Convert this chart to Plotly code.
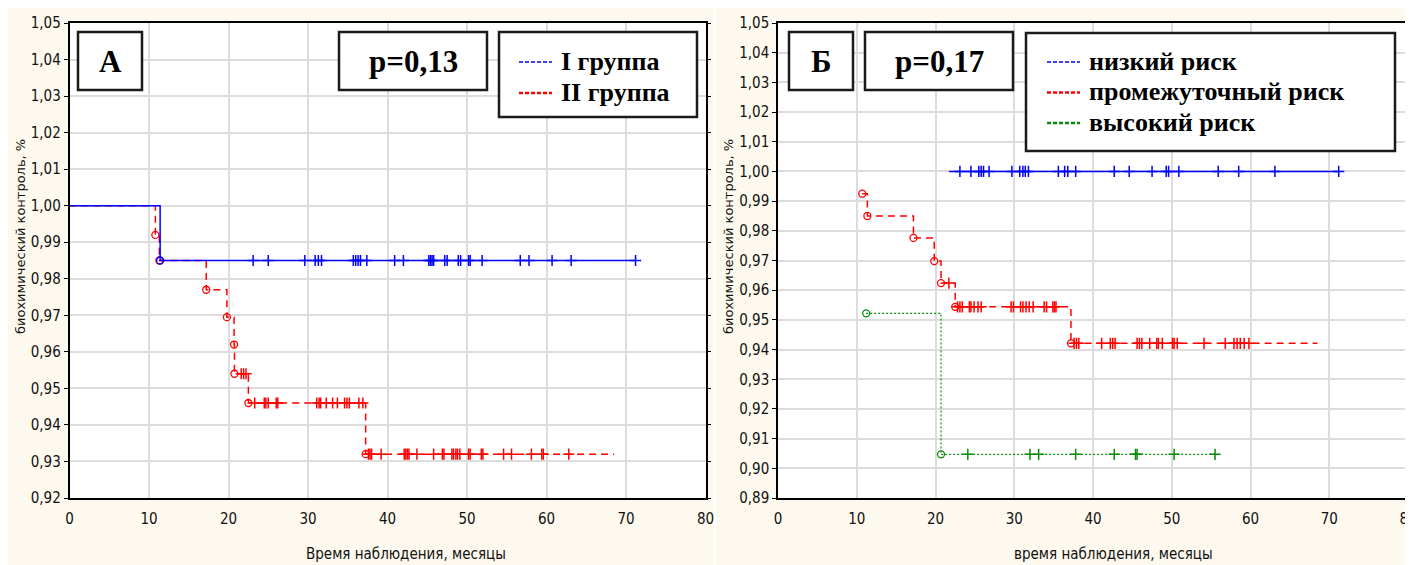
import plotly.graph_objects as go

# ---------------- data ----------------
# Panel A (left): groups
A_labels = ["I группа", "II группа"]
A_g1_start = (0.0, 1.0)
A_g1_event_t = [11.4]
A_g1_event_s = [0.985]
A_g1_end = 71.2
A_g1_cens = [23.1, 25.0, 29.6, 30.9, 31.3, 31.7, 35.7, 36.0, 36.3, 36.6, 37.4, 40.9, 42.0,
             45.2, 45.4, 45.6, 45.8, 47.2, 47.5, 48.9, 49.2, 50.2, 50.4, 51.9, 56.7, 57.8,
             60.7, 63.1, 71.2]

A_g2_start = (0.0, 1.0)
A_g2_event_t = [10.8, 11.3, 17.2, 19.8, 20.7, 20.75, 22.5, 37.25]
A_g2_event_s = [0.992, 0.985, 0.977, 0.9695, 0.962, 0.954, 0.946, 0.932]
A_g2_end = 68.5
A_g2_cens = [21.6, 21.9, 22.2,
             23.3, 24.5, 24.7, 25.0, 26.0, 26.2, 31.1, 31.4, 31.6, 32.3, 33.1, 33.7, 34.6,
             34.9, 35.2, 36.4, 36.9,
             37.6, 37.8, 38.0, 39.2, 42.1, 42.3, 42.5, 42.7, 43.7, 45.8, 46.9, 47.1, 48.1,
             48.3, 48.6, 48.8, 49.1, 50.2, 50.4, 51.8, 52.0, 54.6, 55.6, 58.1, 59.4, 59.6,
             62.8]

# Panel B (right): risk groups
B_labels = ["низкий риск", "промежуточный риск", "высокий риск"]
B_low_start = (21.7, 1.0)
B_low_event_t = []
B_low_event_s = []
B_low_end = 71.2
B_low_cens = [23.1, 24.5, 25.5, 25.8, 26.1, 26.8, 29.7, 30.7, 31.1, 31.4, 31.8, 35.6, 36.4,
              36.8, 37.8, 42.7, 44.6, 47.5, 49.3, 49.6, 50.9, 55.9, 58.5, 63.1, 71.2]

B_mid_start = (10.7, 0.9925)
B_mid_event_t = [10.7, 11.35, 17.2, 19.84, 20.7, 22.5, 37.2]
B_mid_event_s = [0.9925, 0.985, 0.9776, 0.9698, 0.9624, 0.9544, 0.9421]
B_mid_end = 68.5
B_mid_cens = [21.7,
              22.8, 23.1, 23.4, 24.3, 24.5, 24.9, 25.4, 25.8, 29.6, 29.9, 30.8, 31.1, 31.5,
              31.9, 32.4, 33.8, 34.1, 34.9, 35.1, 35.3,
              37.6, 37.9, 38.2, 41.1, 42.2, 42.5, 42.8, 45.6, 45.9, 46.2, 47.2, 48.1, 48.3,
              48.8, 50.1, 50.3, 50.7, 54.1, 56.8, 57.9, 58.3, 58.7, 59.2, 59.8]

B_high_start = (11.2, 0.9522)
B_high_event_t = [11.2, 20.7]
B_high_event_s = [0.9522, 0.9047]
B_high_end = 55.5
B_high_cens = [24.1, 32.0, 33.1, 37.8, 42.7, 45.4, 45.6, 50.3, 55.5]

p_values = ["p=0,13", "p=0,17"]
panel_letters = ["А", "Б"]
x_titles = ["Время наблюдения, месяцы", "время наблюдения, месяцы"]
y_title = "биохимический контроль, %"

# ---------------- styling ----------------
W, H = 1413, 565
OFF = 8  # the page's own body margin shifts the figure by this much
BLUE, RED, GREEN = "#0000FF", "#FF0000", "#0A8A0A"
BEIGE = "#FEF9EE"
NARROW = "Liberation Sans Narrow, Arial Narrow, DejaVu Sans Condensed, sans-serif"
SERIF = "Liberation Serif, Times New Roman, serif"


def px(x):
    return (x - OFF) / W


def py(y):
    return 1 - (y - OFF) / H


def surv_at(t, start, ev_t, ev_s):
    s = start[1]
    for et, es in zip(ev_t, ev_s):
        if et <= t:
            s = es
    return s


fig = go.Figure()


def add_curve(xa, ya, start, ev_t, ev_s, end, cens, color, dash, width):
    xs = [start[0]] + list(ev_t) + [end]
    last = ev_s[-1] if ev_s else start[1]
    ys = [start[1]] + list(ev_s) + [last]
    fig.add_trace(go.Scatter(x=xs, y=ys, mode="lines", line=dict(color=color, width=width, dash=dash, shape="hv"),
                             xaxis=xa, yaxis=ya, showlegend=False, hoverinfo="skip"))
    if ev_t:
        fig.add_trace(go.Scatter(x=ev_t, y=ev_s, mode="markers",
                                 marker=dict(symbol="circle-open", size=7, color=color, line=dict(width=1.3, color=color)),
                                 xaxis=xa, yaxis=ya, showlegend=False))
    cy = [surv_at(t, start, ev_t, ev_s) for t in cens]
    fig.add_trace(go.Scatter(x=cens, y=cy, mode="markers",
                             marker=dict(symbol="cross-thin", size=8, color=color, line=dict(width=1.5, color=color)),
                             xaxis=xa, yaxis=ya, showlegend=False))


# Panel A
add_curve("x", "y", A_g2_start, A_g2_event_t, A_g2_event_s, A_g2_end, A_g2_cens, RED, "7px,5px", 1.5)
add_curve("x", "y", A_g1_start, A_g1_event_t, A_g1_event_s, A_g1_end, A_g1_cens, BLUE, "solid", 1.5)
# Panel B
add_curve("x2", "y2", B_low_start, B_low_event_t, B_low_event_s, B_low_end, B_low_cens, BLUE, "solid", 1.5)
add_curve("x2", "y2", B_mid_start, B_mid_event_t, B_mid_event_s, B_mid_end, B_mid_cens, RED, "7px,5px", 1.5)
add_curve("x2", "y2", B_high_start, B_high_event_t, B_high_event_s, B_high_end, B_high_cens, GREEN, "2px,2px", 1.2)

common_x = dict(range=[0, 80], dtick=10, tick0=0, showgrid=True, gridcolor="#DCDCDC", gridwidth=1.5,
                zeroline=False, showline=True, linecolor="black", linewidth=1.5, mirror=True,
                ticks="", ticklabelstandoff=6, tickfont=dict(family=NARROW, size=15, color="#111"),
                fixedrange=True, automargin=False)
common_y = dict(dtick=0.01, tickformat=".2f", showgrid=True, gridcolor="#DCDCDC", gridwidth=1.5,
                zeroline=False, showline=True, linecolor="black", linewidth=1.5, mirror="ticks",
                ticks="outside", ticklen=4, tickcolor="black", tickwidth=1,
                tickfont=dict(family=NARROW, size=15, color="#111"), fixedrange=True,
                automargin=False)

LX = [px(69.5), px(705.5)]
RX = [px(778), px(1408)]
YD = [py(498), py(23)]

fig.update_layout(
    width=W, height=H, margin=dict(l=0, r=0, t=0, b=0, autoexpand=False),
    paper_bgcolor=BEIGE, plot_bgcolor="white", separators=", ",
    xaxis=dict(domain=LX, anchor="y", **common_x),
    yaxis=dict(domain=YD, anchor="x", range=[0.92, 1.05], **common_y),
    xaxis2=dict(domain=RX, anchor="y2", **common_x),
    yaxis2=dict(domain=YD, anchor="x2", range=[0.89, 1.05], **common_y),
)

shapes = []
annotations = []
# faint separator between the two panels
shapes.append(dict(type="line", xref="paper", yref="paper", x0=px(715), x1=px(715), y0=0, y1=1,
                   line=dict(color="white", width=2), layer="below"))


def box(x0, y0, x1, y1):
    shapes.append(dict(type="rect", xref="paper", yref="paper", x0=px(x0), x1=px(x1), y0=py(y1), y1=py(y0),
                       fillcolor="white", line=dict(color="#1a1a1a", width=2.5), layer="above"))


def text(x, y, s, size, family=SERIF, weight="bold", xanchor="center", color="black", angle=0):
    annotations.append(dict(xref="paper", yref="paper", x=px(x), y=py(y), text=s, showarrow=False,
                            xanchor=xanchor, yanchor="middle", textangle=angle,
                            font=dict(family=family, size=size, color=color, weight=weight)))


# Panel A boxes
box(78, 32, 142, 90); text(110, 62, panel_letters[0], 31)
box(339, 32, 487, 90); text(413, 62, p_values[0], 31)
box(499, 32, 697, 117)
for i, (lab, col) in enumerate(zip(A_labels, [BLUE, RED])):
    yy = 62 + i * 31
    shapes.append(dict(type="line", xref="paper", yref="paper", x0=px(519), x1=px(552), y0=py(yy), y1=py(yy),
                       line=dict(color=col, width=1.5 + i, dash="4px,2px"), layer="above"))
    text(559, yy - 1, lab, 26, xanchor="left")

# Panel B boxes
box(789, 32, 853, 90); text(821, 62, panel_letters[1], 31)
box(865, 32, 1013, 90); text(939, 62, p_values[1], 31)
box(1026, 33, 1395, 151)
for i, (lab, col) in enumerate(zip(B_labels, [BLUE, RED, GREEN])):
    yy = 62 + i * 30.5
    shapes.append(dict(type="line", xref="paper", yref="paper", x0=px(1047), x1=px(1080), y0=py(yy), y1=py(yy),
                       line=dict(color=col, width=1.5 if i == 0 else 2.5, dash="4px,2px"), layer="above"))
    text(1087, yy - 1, lab, 26, xanchor="left")

# axis titles
TF = "DejaVu Sans, Liberation Sans, Arial, sans-serif"
text(20, 237, y_title, 13, family=TF, weight="normal", angle=-90, color="#111")
text(728, 237, y_title, 13, family=TF, weight="normal", angle=-90, color="#111")
text(406, 554, x_titles[0], 15, family=NARROW, weight="normal", color="#111")
text(1113, 554, x_titles[1], 15, family=NARROW, weight="normal", color="#111")

fig.update_layout(shapes=shapes, annotations=annotations)
fig.write_html("out.html")
